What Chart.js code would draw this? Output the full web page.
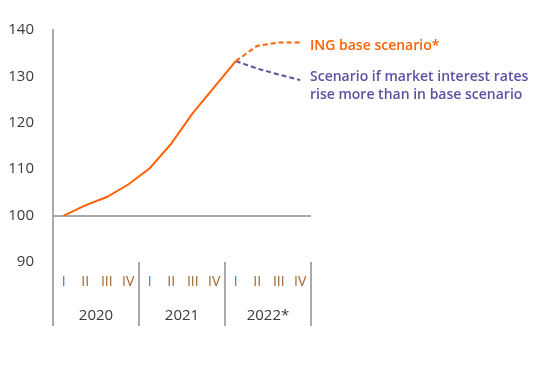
<!DOCTYPE html>
<html>
<head>
<meta charset="utf-8">
<script src="https://cdn.jsdelivr.net/npm/chart.js@4"></script>
<style>
  html, body { margin: 0; padding: 0; background: #fff; }
  #wrap { width: 533px; height: 365px; }
</style>
</head>
<body>
<div id="wrap"><canvas id="grafico"></canvas></div>
<script>
// Datos del gráfico
const trimestres = ['I', 'II', 'III', 'IV', 'I', 'II', 'III', 'IV', 'I', 'II', 'III', 'IV'];
const anios = ['2020', '2021', '2022*'];
const escenarioBase = [100, 102.2, 104.0, 106.7, 110.2, 115.5, 122.1, 127.7, 133.3, null, null, null];
const escenarioBaseProy = [null, null, null, null, null, null, null, null, 133.3, 136.6, 137.3, 137.3];
const escenarioTasas = [null, null, null, null, null, null, null, null, 133.3, 131.7, 130.4, 129.2];
const etiquetaBase = 'ING base scenario*';
const etiquetaTasas = ['Scenario if market interest rates', 'rise more than in base scenario'];

const NARANJA = '#ff6200';
const MORADO = '#5b52a3';
const GRIS = '#a9a9a9';
const TEXTO = '#3a3a3a';

// Separadores de años y textos de leyenda
const extras = {
    id: 'extras',
    afterDraw(chart) {
        const ctx = chart.ctx;
        const x = chart.scales.x;
        const x2 = chart.scales.x2;
        const area = chart.chartArea;
        ctx.save();
        ctx.strokeStyle = GRIS;
        ctx.lineWidth = 2;
        for (let i = 0; i <= trimestres.length; i += 4) {
            const px = Math.round(x.getPixelForValue(i - 0.5));
            ctx.beginPath();
            ctx.moveTo(px, area.bottom);
            ctx.lineTo(px, x2.bottom);
            ctx.stroke();
        }
        ctx.font = '600 14px "Open Sans"';
        ctx.textBaseline = 'middle';
        ctx.textAlign = 'left';
        ctx.fillStyle = NARANJA;
        ctx.fillText(etiquetaBase, area.right - 1, 46);
        ctx.fillStyle = MORADO;
        ctx.fillText(etiquetaTasas[0], area.right - 1, 77);
        ctx.fillText(etiquetaTasas[1], area.right - 1, 95);
        ctx.restore();
    }
};

new Chart(document.getElementById('grafico'), {
    type: 'line',
    data: {
        labels: trimestres,
        datasets: [
            { data: escenarioBase, borderColor: NARANJA, borderWidth: 2 },
            { data: escenarioBaseProy, borderColor: NARANJA, borderWidth: 2, borderDash: [5, 3] },
            { data: escenarioTasas, borderColor: MORADO, borderWidth: 2, borderDash: [5, 3] }
        ]
    },
    options: {
        responsive: true,
        maintainAspectRatio: false,
        animation: false,
        layout: { padding: { left: 7, right: 222, top: 30, bottom: 39 } },
        elements: { point: { radius: 0 }, line: { tension: 0 } },
        plugins: { legend: { display: false }, tooltip: { enabled: false } },
        scales: {
            y: {
                min: 90,
                max: 140,
                afterFit: (s) => { s.width = 46; },
                ticks: {
                    stepSize: 10,
                    padding: 19,
                    color: TEXTO,
                    font: { family: 'Open Sans', size: 15 }
                },
                grid: {
                    drawTicks: false,
                    lineWidth: 2,
                    color: (c) => (c.tick && c.tick.value === 100 ? GRIS : 'rgba(0,0,0,0)')
                },
                border: { display: true, color: GRIS, width: 2 }
            },
            x: {
                offset: true,
                afterFit: (s) => { s.height = 30; },
                grid: { display: false, drawTicks: false },
                border: { display: false },
                ticks: {
                    padding: 12,
                    maxRotation: 0,
                    autoSkip: false,
                    color: (c) => (c.index % 4 === 0 ? '#3a7fc2' : '#9c6530'),
                    font: { family: 'Open Sans', size: 14 }
                }
            },
            x2: {
                type: 'category',
                labels: anios,
                offset: true,
                position: 'bottom',
                afterFit: (s) => { s.height = 34; },
                grid: { display: false, drawTicks: false },
                border: { display: false },
                ticks: {
                    padding: 15,
                    maxRotation: 0,
                    color: TEXTO,
                    font: { family: 'Open Sans', size: 15 }
                }
            }
        }
    },
    plugins: [extras]
});
</script>
</body>
</html>
